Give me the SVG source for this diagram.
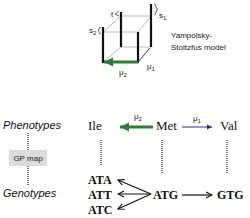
<svg xmlns="http://www.w3.org/2000/svg" width="250" height="218" viewBox="0 0 250 218">
<defs>
<style>
.edge{stroke:#aaaaaa;stroke-width:0.8;fill:none}
.bar{stroke:#111;stroke-width:2.2}
.sm{font-family:"Liberation Sans",Arial,sans-serif;font-size:8px;fill:#222}
.lab{font-family:"Liberation Sans",Arial,sans-serif;font-size:11px;font-style:italic;fill:#111}
.ph{font-family:"Liberation Serif","Times New Roman",serif;font-size:13px;fill:#111}
.gt{font-family:"Liberation Serif","Times New Roman",serif;font-size:12px;font-weight:bold;fill:#111}
.dot{stroke:#222;stroke-width:1.2;stroke-dasharray:1 1}
.blk{stroke:#111;stroke-width:1.2;fill:none}
.brace{stroke:#222;stroke-width:0.7;fill:none}
</style>
<marker id="ab" markerWidth="8" markerHeight="8" refX="7" refY="4" orient="auto" markerUnits="userSpaceOnUse">
<path d="M1,1 L7,4 L1,7" fill="none" stroke="#111" stroke-width="1.1"/>
</marker>
<marker id="ag" markerWidth="10" markerHeight="10" refX="9" refY="5" orient="auto" markerUnits="userSpaceOnUse">
<path d="M0,0.5 L9,5 L0,9.5 Z" fill="#2e7d32"/>
</marker>
<marker id="abl" markerWidth="6" markerHeight="6" refX="5" refY="3" orient="auto" markerUnits="userSpaceOnUse">
<path d="M0,0.5 L5,3 L0,5.5 Z" fill="#2a2a8a"/>
</marker>
</defs>

<g id="cube">
<path class="edge" d="M103,32 H138 V62 M121,16 H151 V47 H121 Z M103,32 L121,16 M138,32 L151,16 M103,62 L121,47"/>
<line class="bar" x1="103" y1="27" x2="103" y2="63"/>
<line class="bar" x1="138" y1="32" x2="138" y2="63"/>
<line class="bar" x1="121" y1="12" x2="121" y2="47"/>
<line class="bar" x1="151" y1="4" x2="151" y2="47"/>
<line x1="138" y1="62" x2="150" y2="48" stroke="#2a2a8a" stroke-width="1"/>
<line x1="138" y1="62" x2="104" y2="62" stroke="#2e7d32" stroke-width="3" marker-end="url(#ag)"/>
<path class="brace" d="M154,4 Q156,4 156,7 Q156,9 158,9.5 Q156,10 156,12 Q156,15 154,15"/>
<text class="sm" x="159" y="18">s<tspan font-size="6" dy="1.5">1</tspan></text>
<path class="brace" d="M101,27 Q99,27 99,29 Q99,30 98,30.5 Q99,31 99,32 Q99,34 101,34"/>
<text class="sm" x="89" y="33">s<tspan font-size="6" dy="1.5">2</tspan></text>
<text class="sm" x="111" y="17">t</text>
<path class="brace" d="M119,11 L115,14 L119,16"/>
<text class="sm" x="147" y="69">μ<tspan font-size="6" dy="1.5">1</tspan></text>
<text class="sm" x="119" y="75">μ<tspan font-size="6" dy="1.5">2</tspan></text>
<text class="sm" x="171" y="38">Yampolsky-</text>
<text class="sm" x="171" y="50">Stoltzfus model</text>
</g>

<g id="levels">
<text class="lab" x="3" y="129">Phenotypes</text>
<text class="lab" x="3" y="197">Genotypes</text>
<line class="dot" x1="28" y1="133" x2="28" y2="150"/>
<line class="dot" x1="28" y1="166" x2="28" y2="186"/>
</g>
<g id="gpmap">
<rect x="9" y="150" width="38" height="16" fill="#dcdcdc"/>
<text class="sm" x="28" y="161" text-anchor="middle">GP map</text>
</g>

<g id="Ile"><text class="ph" x="88" y="130">Ile</text></g>
<g id="Met"><text class="ph" x="156" y="130">Met</text></g>
<g id="Val"><text class="ph" x="220" y="130">Val</text></g>
<g id="ATA"><text class="gt" x="88" y="184">ATA</text></g>
<g id="ATT"><text class="gt" x="88" y="199">ATT</text></g>
<g id="ATC"><text class="gt" x="88" y="214">ATC</text></g>
<g id="ATG"><text class="gt" x="153" y="199">ATG</text></g>
<g id="GTG"><text class="gt" x="217" y="199">GTG</text></g>

<g id="connectors">
<line x1="153" y1="127" x2="120" y2="127" stroke="#2e7d32" stroke-width="3" marker-end="url(#ag)"/>
<text class="sm" x="134" y="119">μ<tspan font-size="6" dy="1.5">2</tspan></text>
<line x1="182" y1="127" x2="212" y2="127" stroke="#2a2a8a" stroke-width="1" marker-end="url(#abl)"/>
<text class="sm" x="193" y="121">μ<tspan font-size="6" dy="1.5">1</tspan></text>
<line class="dot" x1="101" y1="140" x2="101" y2="165"/>
<line class="dot" x1="162" y1="140" x2="162" y2="173"/>
<line class="dot" x1="227" y1="140" x2="227" y2="173"/>
<line class="blk" x1="151" y1="194" x2="118" y2="180" marker-end="url(#ab)"/>
<line class="blk" x1="151" y1="194" x2="118" y2="194" marker-end="url(#ab)"/>
<line class="blk" x1="151" y1="194" x2="118" y2="209" marker-end="url(#ab)"/>
<line class="blk" x1="182" y1="195" x2="212" y2="195" marker-end="url(#ab)"/>
</g>
</svg>
